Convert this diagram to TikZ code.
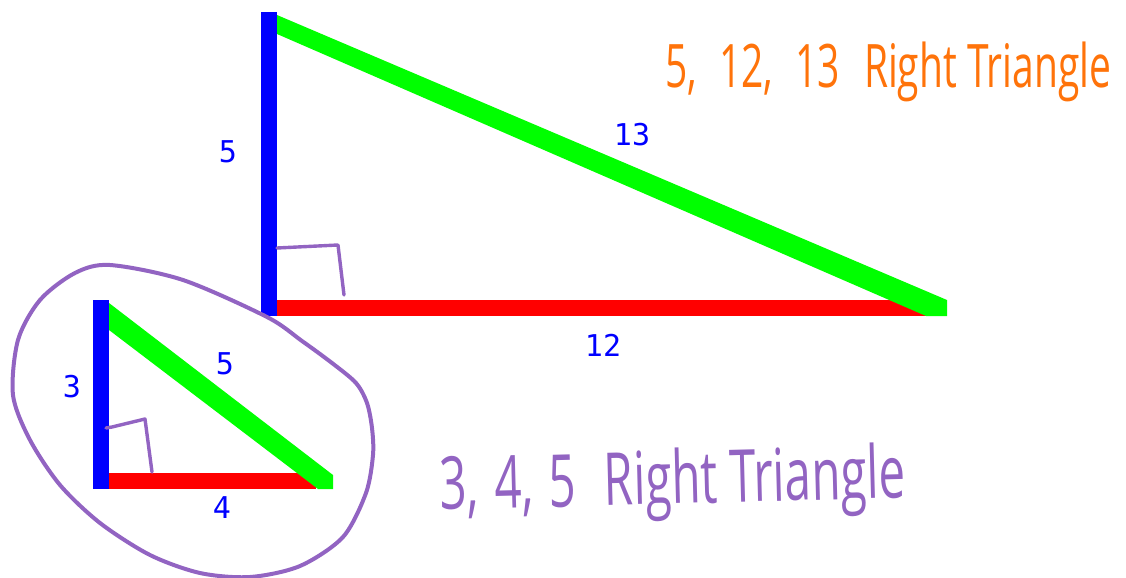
\documentclass[tikz,border=0pt]{standalone}
\usepackage{fontspec}
\newfontfamily\handfont[FakeStretch=0.65]{Open Sans}
\newfontfamily\digitfont{DejaVu Sans Mono}
\definecolor{sideblue}{RGB}{0,0,255}
\definecolor{sidered}{RGB}{255,0,0}
\definecolor{sidegreen}{RGB}{0,255,0}
\definecolor{inkorange}{RGB}{255,115,10}
\definecolor{inkpurple}{RGB}{146,100,194}

\begin{document}
\begin{tikzpicture}[x=0.5pt,y=-0.5pt,
  sidelabel/.style={font=\digitfont\fontsize{15}{15}\selectfont, text=sideblue},
  handtext/.style={font=\handfont\fontsize{30}{30}\selectfont, anchor=base west, inner sep=0pt},
  rtmark/.style={inkpurple, line width=1.7pt, line cap=round, line join=round}]
\useasboundingbox (0,0) rectangle (1126,578);

% 5,12,13 triangle
\fill[sidered] (277,300) rectangle (930,316);
\fill[sidegreen] (277,15) -- (947,300) -- (947,316) -- (926,316) -- (277,34) -- cycle;
\fill[sideblue] (261,12) rectangle (277,316);
\draw[rtmark] (277,248) -- (338,245) -- (344,295);

\node[sidelabel] (L5) at (228,152) {5};
\node[sidelabel] (L13) at (632,135) {13};
\node[sidelabel] (L12) at (603,345) {12};

% 3,4,5 triangle
\fill[sidered] (109,473) rectangle (316,489);
\fill[sidegreen] (109,303) -- (333,475) -- (333,489) -- (318,489) -- (109,330) -- cycle;
\fill[sideblue] (93,300) rectangle (109,489);
\draw[rtmark] (106,428) -- (112,427) -- (145,419) -- (152,472);

\node[sidelabel] (S3) at (72,387) {3};
\node[sidelabel] (S5) at (225,364) {5};
\node[sidelabel] (S4) at (222,508) {4};

% circled
\draw[inkpurple, line width=2pt] plot[smooth cycle] coordinates {
  (110,265) (183,280) (267,317) (302,341) (332,363) (356,383) (367,403)
  (372,428) (373,455) (366,493) (343,537) (300,566) (250,577) (200,573)
  (150,555) (100,523) (60,485) (30,440) (13,395) (18,340) (40,300) (75,273)};

\node[handtext, text=inkorange] (T1) at (665,87)
  {5,\hspace{11pt}12,\hspace{11pt}13\hspace{12pt}Right Triangle};
\node[handtext, text=inkpurple, rotate=1.5, font=\handfont\fontsize{36.5}{36.5}\selectfont]
  (T2) at (440,510) {3,\hspace{8pt}4,\hspace{8pt}5\hspace{14pt}Right Triangle};

\end{tikzpicture}
\end{document}
